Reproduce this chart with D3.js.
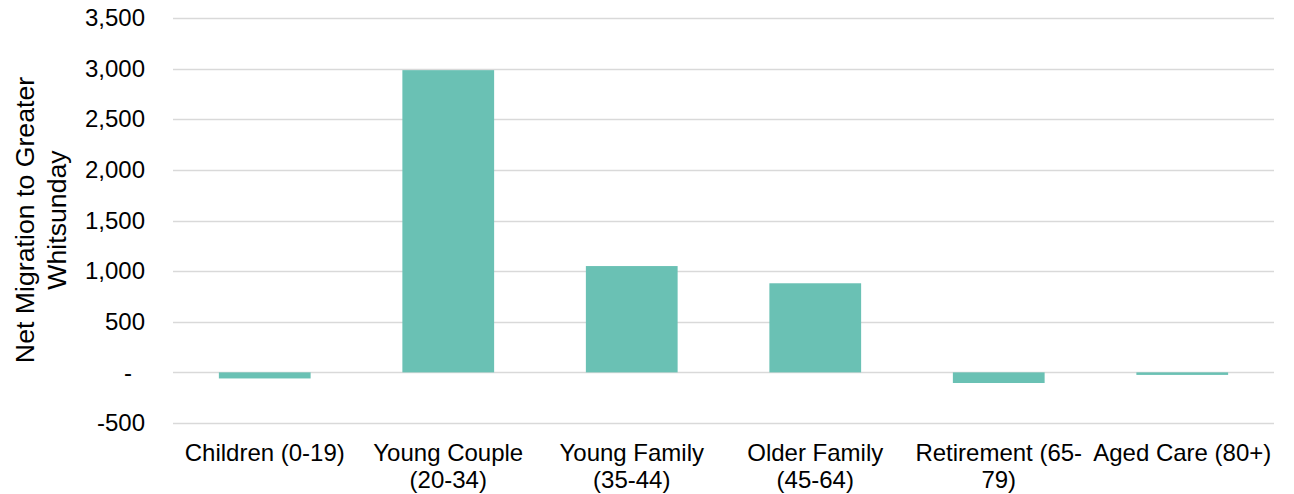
<!DOCTYPE html>
<html><head><meta charset="utf-8">
<script src="https://cdn.jsdelivr.net/npm/d3@7"></script>
<style>
html,body{margin:0;padding:0;background:#fff;}
text{font-family:"Liberation Sans",Arial,sans-serif;fill:#000;}
</style></head>
<body><svg id="chart" width="1294" height="494"></svg>
<script>
const categories = ["Children (0-19)","Young Couple (20-34)","Young Family (35-44)","Older Family (45-64)","Retirement (65-79)","Aged Care (80+)"];
const categoryLines = [["Children (0-19)"],["Young Couple","(20-34)"],["Young Family","(35-44)"],["Older Family","(45-64)"],["Retirement (65-","79)"],["Aged Care (80+)"]];
const values = [-60, 2985, 1050, 880, -105, -25];
const yTicks = [-500, 0, 500, 1000, 1500, 2000, 2500, 3000, 3500];
const yTitleLines = ["Net Migration to Greater","Whitsunday"];

const svg = d3.select("#chart");
const plotLeft = 173, plotRight = 1274, plotTop = 18, plotBottom = 423;
const x = d3.scaleBand().domain(categories).range([plotLeft, plotRight]).paddingInner(0.5).paddingOuter(0.25);
const y = d3.scaleLinear().domain([-500, 3500]).range([plotBottom, plotTop]);
const loc = d3.formatLocale({decimal: ".", thousands: ",", grouping: [3], currency: ["$", ""], minus: "-"});
const fmt = v => v === 0 ? "-" : loc.format(",")(v);
const fs = "24px";

// gridlines
svg.append("g").selectAll("line").data(yTicks).join("line")
  .attr("x1", plotLeft).attr("x2", plotRight)
  .attr("y1", d => Math.round(y(d)) + 0.5).attr("y2", d => Math.round(y(d)) + 0.5)
  .attr("stroke", "#d9d9d9").attr("stroke-width", 1.5);

// y axis labels
const yAxis = d3.axisLeft(y).tickValues(yTicks).tickFormat(fmt).tickSize(0).tickPadding(0);
const gy = svg.append("g").attr("transform", `translate(145,0)`).call(yAxis);
gy.select(".domain").remove();
gy.selectAll("text").style("font-size", fs).attr("fill", "#000").attr("font-family", null)
  .attr("x", d => d === 0 ? -13 : 0);

// bars
svg.append("g").selectAll("rect").data(values).join("rect")
  .attr("x", (d, i) => x(categories[i]))
  .attr("width", x.bandwidth())
  .attr("y", d => y(Math.max(0, d)))
  .attr("height", d => Math.abs(y(d) - y(0)))
  .attr("fill", "#6ac1b4");

// x labels
const xl = svg.append("g");
categories.forEach((c, i) => {
  const t = xl.append("text").attr("text-anchor", "middle").style("font-size", fs)
    .attr("x", x(c) + x.bandwidth() / 2).attr("y", 461);
  categoryLines[i].forEach((ln, j) => {
    t.append("tspan").attr("x", x(c) + x.bandwidth() / 2).attr("dy", j === 0 ? 0 : 27).text(ln);
  });
});

// y title
const yt = svg.append("text").attr("text-anchor", "middle").style("font-size", "26.7px")
  .attr("transform", "translate(34,220) rotate(-90)");
yTitleLines.forEach((ln, j) => {
  yt.append("tspan").attr("x", 0).attr("dy", j === 0 ? 0 : 32).text(ln);
});
</script></body></html>
